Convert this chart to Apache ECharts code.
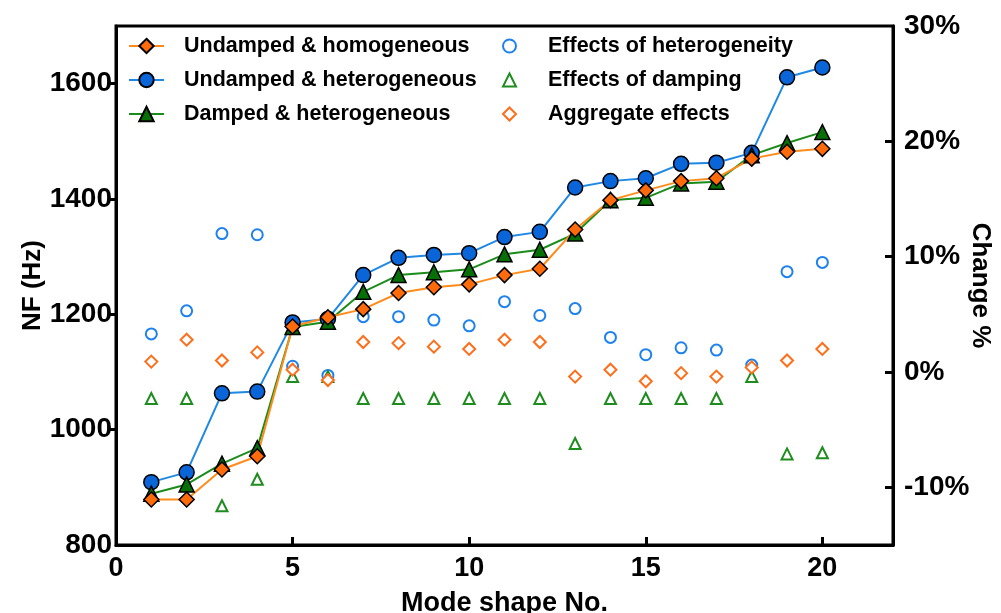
<!DOCTYPE html>
<html>
<head>
<meta charset="utf-8">
<title>Natural frequencies by mode shape</title>
<script src="https://cdn.jsdelivr.net/npm/echarts@6/dist/echarts.min.js"></script>
<style>
  html, body { margin: 0; padding: 0; background: #ffffff; }
  #chart { width: 1001px; height: 613px; }
</style>
</head>
<body>
<div id="chart"></div>
<script>
// Mode shape numbers along the x axis
const modes = [1, 2, 3, 4, 5, 6, 7, 8, 9, 10, 11, 12, 13, 14, 15, 16, 17, 18, 19, 20];

// Natural frequencies (Hz), left axis
const undampedHomogeneous = [879, 879, 931, 954, 1179, 1195, 1209, 1237, 1247, 1252, 1268, 1279, 1347, 1398, 1415, 1431, 1436, 1470, 1482, 1487];
const undampedHeterogeneous = [909, 926, 1063, 1066, 1186, 1192, 1268, 1298, 1303, 1306, 1334, 1343, 1420, 1431, 1436, 1461, 1463, 1480, 1611, 1628];
const dampedHeterogeneous = [889, 905, 941, 968, 1178, 1187, 1239, 1268, 1273, 1278, 1304, 1312, 1340, 1398, 1402, 1427, 1430, 1476, 1497, 1516];

// Relative changes (%), right axis
const heterogeneityEffect = [3.3, 5.3, 12.0, 11.9, 0.5, -0.3, 4.8, 4.8, 4.5, 4.0, 6.1, 4.9, 5.5, 3.0, 1.5, 2.1, 1.9, 0.6, 8.7, 9.5];
const dampingEffect = [-2.3, -2.3, -11.6, -9.3, -0.4, -0.4, -2.3, -2.3, -2.3, -2.3, -2.3, -2.3, -6.2, -2.3, -2.3, -2.3, -2.3, -0.4, -7.1, -7.0];
const aggregateEffect = [0.9, 2.8, 1.0, 1.7, 0.2, -0.7, 2.6, 2.5, 2.2, 2.0, 2.8, 2.6, -0.4, 0.2, -0.8, -0.1, -0.4, 0.4, 1.0, 2.0];

// Tick values
const xTickLabels = [0, 5, 10, 15, 20];
const nfTickLabels = [800, 1000, 1200, 1400, 1600];
const changeTickLabels = [-10, 0, 10, 20, 30];

const pair = (ys) => modes.map((m, i) => [m, ys[i]]);

const BOLD = 'Liberation Sans, Arial, sans-serif';
const NARROW = 'Liberation Sans Narrow, Liberation Sans, Arial, sans-serif';

const chart = echarts.init(document.getElementById('chart'), null, { renderer: 'canvas' });

function lineSeries(name, data, lineColor, fillColor, symbol, size) {
  return {
    name: name,
    type: 'line',
    yAxisIndex: 0,
    data: pair(data),
    symbol: symbol,
    symbolSize: size,
    showAllSymbol: true,
    lineStyle: { color: lineColor, width: 2 },
    itemStyle: { color: fillColor, borderColor: '#000000', borderWidth: 1.5 },
    emphasis: { disabled: true },
    animation: false
  };
}

function hollowSeries(name, data, color, symbol, size) {
  return {
    name: name,
    type: 'scatter',
    yAxisIndex: 1,
    data: pair(data),
    symbol: symbol,
    symbolSize: size,
    symbolKeepAspect: true,
    itemStyle: { color: '#ffffff', borderColor: color, borderWidth: 2, opacity: 1 },
    emphasis: { disabled: true },
    animation: false
  };
}

const legendText = { fontFamily: BOLD, fontWeight: 'bold', fontSize: 21.5, color: '#000000' };

const option = {
  backgroundColor: '#ffffff',
  animation: false,
  grid: {
    left: 116, right: 108, top: 26, bottom: 68,
    outerBoundsMode: 'none',
    containLabel: false,
    show: true, borderColor: '#000000', borderWidth: 3, backgroundColor: 'transparent'
  },
  legend: [
    {
      left: 128, top: 35, orient: 'vertical', padding: 0,
      itemWidth: 35, itemHeight: 18, itemGap: 12,
      selectedMode: false,
      data: ['Undamped & homogeneous', 'Undamped & heterogeneous', 'Damped & heterogeneous'],
      textStyle: Object.assign({ padding: [0, 0, 0, 15] }, legendText)
    },
    {
      left: 502, top: 35, orient: 'vertical', padding: 0,
      itemWidth: 13, itemHeight: 13, itemGap: 12,
      selectedMode: false,
      data: ['Effects of heterogeneity', 'Effects of damping', 'Aggregate effects'],
      textStyle: Object.assign({ padding: [0, 0, 0, 27] }, legendText)
    }
  ],
  xAxis: {
    type: 'value',
    min: 0, max: 22, interval: 5,
    name: 'Mode shape No.',
    nameLocation: 'middle',
    nameGap: 45,
    nameMoveOverlap: false,
    nameTextStyle: { fontFamily: NARROW, fontWeight: 'bold', fontSize: 27, color: '#000000' },
    axisLine: { show: true, onZero: false, lineStyle: { color: '#000000', width: 3 } },
    axisTick: { show: true, inside: true, length: 8, lineStyle: { color: '#000000', width: 3 }, customValues: xTickLabels.slice(1) },
    axisLabel: { fontFamily: NARROW, fontWeight: 'bold', fontSize: 27, color: '#000000', margin: 10, customValues: xTickLabels },
    splitLine: { show: false }
  },
  yAxis: [
    {
      type: 'value',
      position: 'left',
      min: 800, max: 1700, interval: 100,
      name: 'NF (Hz)',
      nameLocation: 'middle',
      nameGap: 70,
      nameMoveOverlap: false,
      nameTextStyle: { fontFamily: BOLD, fontWeight: 'bold', fontSize: 26, color: '#000000' },
      axisLine: { show: true, onZero: false, lineStyle: { color: '#000000', width: 3 } },
      axisTick: { show: true, inside: false, length: 7, lineStyle: { color: '#000000', width: 3 }, customValues: nfTickLabels.slice(1) },
      axisLabel: { fontFamily: BOLD, fontWeight: 'bold', fontSize: 28, color: '#000000', margin: 4, formatter: (v) => String(v), customValues: nfTickLabels },
      splitLine: { show: false }
    },
    {
      type: 'value',
      position: 'right',
      min: -15, max: 30, interval: 5,
      name: 'Change %',
      nameLocation: 'middle',
      nameRotate: -90,
      nameGap: 74,
      nameMoveOverlap: false,
      nameTextStyle: { fontFamily: BOLD, fontWeight: 'bold', fontSize: 26, color: '#000000' },
      axisLine: { show: true, onZero: false, lineStyle: { color: '#000000', width: 3 } },
      axisTick: { show: true, inside: true, length: 8, lineStyle: { color: '#000000', width: 3 }, customValues: changeTickLabels.slice(0, 4) },
      axisLabel: { fontFamily: BOLD, fontWeight: 'bold', fontSize: 28, color: '#000000', margin: 11, formatter: (v) => v + '%', customValues: changeTickLabels },
      splitLine: { show: false }
    }
  ],
  series: [
    hollowSeries('Effects of heterogeneity', heterogeneityEffect, '#1E82EE', 'circle', 11),
    hollowSeries('Effects of damping', dampingEffect, '#1E8C1E', 'triangle', 11),
    hollowSeries('Aggregate effects', aggregateEffect, '#FF6E1A', 'diamond', 12),
    lineSeries('Undamped & heterogeneous', undampedHeterogeneous, '#1E88E5', '#0A66D8', 'circle', 15),
    lineSeries('Damped & heterogeneous', dampedHeterogeneous, '#1A8C1A', '#067006', 'triangle', 15),
    lineSeries('Undamped & homogeneous', undampedHomogeneous, '#FF8C1A', '#FF6A0A', 'diamond', 15)
  ]
};

chart.setOption(option);
</script>
</body>
</html>
